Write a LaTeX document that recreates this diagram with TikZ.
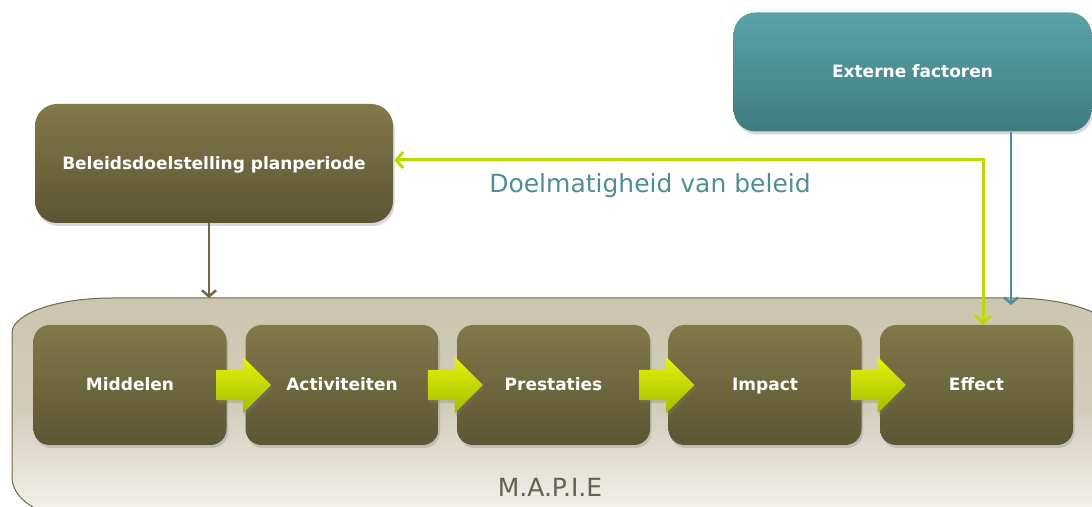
\documentclass[tikz,border=0pt]{standalone}
\usepackage{fontspec}
\setmainfont{DejaVu Sans}
\usetikzlibrary{shapes.arrows,shadows,arrows.meta,calc}

\definecolor{bruinboven}{HTML}{817948}
\definecolor{bruinonder}{HTML}{5C5535}
\definecolor{bruinrand}{HTML}{6F6945}
\definecolor{tealboven}{HTML}{58A2A8}
\definecolor{tealonder}{HTML}{3E7C81}
\definecolor{tealtekst}{HTML}{4E8F94}
\definecolor{limoen}{HTML}{BED900}
\definecolor{limoenlicht}{HTML}{E4F40A}
\definecolor{limoendonker}{HTML}{A2BC00}
\definecolor{bakboven}{HTML}{CCC5B0}
\definecolor{bakonder}{HTML}{F4F3EF}
\definecolor{mapiegrijs}{HTML}{66614F}

\begin{document}
\begin{tikzpicture}[x=1pt, y=1pt,
    schaduw/.style={drop shadow={opacity=0.3, shadow xshift=1.5pt, shadow yshift=-3pt}},
    stapbox/.style={rectangle, rounded corners=16pt, minimum width=193pt, minimum height=120pt,
        top color=bruinboven, bottom color=bruinonder, text=white, schaduw,
        text height=15pt, text depth=3pt,
        font=\fontsize{17}{20}\selectfont\bfseries},
    groteblok/.style={stapbox, minimum width=358pt, minimum height=119pt, rounded corners=22pt},
    tealblok/.style={groteblok, top color=tealboven, bottom color=tealonder},
    groenpijl/.style={single arrow, inner xsep=0pt, inner ysep=15pt, minimum height=55pt,
        single arrow head extend=13pt, top color=limoenlicht, bottom color=limoendonker, schaduw},
    doelpijl/.style={draw=limoen, line width=3pt, {Straight Barb[length=7pt,width=16pt]}-{Straight Barb[length=7pt,width=16pt]}},
    beleidpijl/.style={draw=bruinrand, line width=2.5pt, -{Straight Barb[length=6pt,width=14pt]}},
    extpijl/.style={draw=tealtekst, line width=2.5pt, -{Straight Barb[length=6pt,width=14pt]}}]
    \useasboundingbox (0,0) rectangle (1092,506);

    % bak M.A.P.I.E
    \path[draw=bruinrand, line width=1pt, top color=bakboven, bottom color=bakonder, middle color=bakboven!85!bakonder]
        (12,173) arc[start angle=180, end angle=90, x radius=100, y radius=35]
        -- (1012,208) arc[start angle=90, end angle=0, x radius=100, y radius=35]
        -- (1112,-10) -- (70,-10)
        arc[start angle=270, end angle=180, x radius=58, y radius=39] -- cycle;
    \coordinate (bakin) at (209,208);
    \coordinate (extin) at (1011,201);

    \node[groteblok] (beleid) at (214,342.5) {Beleidsdoelstelling planperiode};
    \node[tealblok] (extern) at (912.5,434) {Externe factoren};

    \node[stapbox] (mid) at (130,121) {Middelen};
    \node[stapbox] (act) at (342,121) {Activiteiten};
    \node[stapbox] (pre) at (553.5,121) {Prestaties};
    \node[stapbox] (imp) at (765,121) {Impact};
    \node[stapbox] (eff) at (976.5,121) {Effect};

    \foreach \a/\b in {mid/act, act/pre, pre/imp, imp/eff}
        \node[groenpijl] at ($(\a.east)!0.5!(\b.west)$) {};

    \draw[beleidpijl] (beleid.south -| bakin) -- (bakin);
    \draw[extpijl] (extern.south -| extin) -- (extin);
    \draw[doelpijl] ($(beleid.east)+(1,3.5)$) -| ($(eff.north)+(6.5,0)$);

    \node[text=tealtekst, font=\fontsize{25}{30}\selectfont] (doel) at (650,320) {Doelmatigheid van beleid};
    \node[text=mapiegrijs, font=\fontsize{25}{30}\selectfont] (mapie) at (550,19) {M.A.P.I.E};
\end{tikzpicture}
\end{document}
